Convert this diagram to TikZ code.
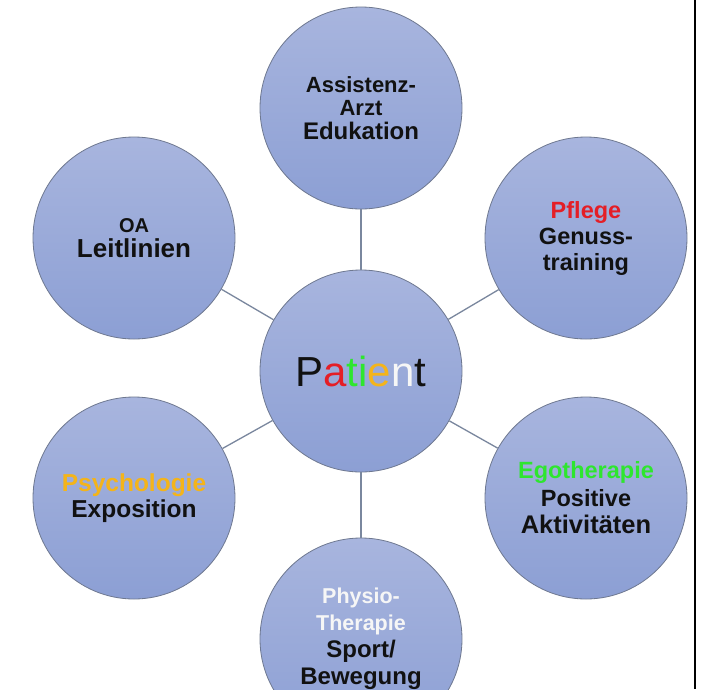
\documentclass[tikz,border=0pt]{standalone}
\usepackage{fontspec}
\setmainfont{Liberation Sans}
\definecolor{bubtop}{HTML}{A8B5DE}
\definecolor{bubbot}{HTML}{8C9FD4}
\definecolor{ringgray}{HTML}{6E7890}
\definecolor{spokegray}{HTML}{7A879E}
\definecolor{inkblack}{HTML}{111111}
\definecolor{tred}{HTML}{E41E26}
\definecolor{tgreen}{HTML}{2EE62E}
\definecolor{torange}{HTML}{F4B41A}
\definecolor{twhite}{HTML}{F6F6F6}
\newcommand{\fs}[2]{\fontsize{#1}{#2}\selectfont}
\begin{document}
\begin{tikzpicture}[x=1pt,y=-1pt,
  bubble/.style={circle, minimum size=202pt, inner sep=0pt, draw=ringgray,
    line width=0.8pt, top color=bubtop, bottom color=bubbot, align=center,
    text=inkblack, font=\bfseries\fs{24}{26}},
  spoke/.style={draw=spokegray, line width=1.3pt}]
\clip (0,0) rectangle (710,689);
\fill[white] (0,0) rectangle (710,689);

% hub and the six surrounding circles
\node[bubble, font=\fs{42}{46}] (hub) at (361,371)
  {P\textcolor{tred}{a}\textcolor{tgreen}{ti}\textcolor{torange}{e}\textcolor{twhite}{n}t};
\node[bubble, font=\bfseries\fs{24}{23.5}] (arzt) at (361,108)
  {{\fs{22}{23.5}Assistenz-}\\{\fs{22}{23.5}Arzt}\\Edukation};
\node[bubble, font=\bfseries\fs{23.5}{26}] (pflege) at (586,238)
  {\textcolor{tred}{Pflege}\\Genuss-\\training};
\node[bubble, font=\bfseries\fs{26}{25}] (oa) at (134,238)
  {{\fs{20}{25}OA}\\Leitlinien};
\node[bubble, font=\bfseries\fs{23.5}{27.5}] (ergo) at (586,498)
  {\textcolor{tgreen}{Egotherapie}\\Positive\\{\fs{25.5}{27.5}Aktivitäten}};
\node[bubble, font=\bfseries\fs{24.5}{26}] (psych) at (134,498)
  {\textcolor{torange}{Psychologie}\\Exposition};
\node[bubble, font=\bfseries\fs{24}{27}] (physio) at (361,639)
  {\raisebox{11pt}{\begin{tabular}{@{}c@{}}
   \textcolor{twhite}{\fs{21.5}{27}Physio-}\\
   \textcolor{twhite}{\fs{21.5}{27}Therapie}\\
   Sport/\\Bewegung\end{tabular}}};

% spokes from the hub
\foreach \n in {arzt,pflege,oa,ergo,psych,physio}
  \draw[spoke] (hub) -- (\n);

% frame edge on the right
\draw[line width=2pt, black] (695,0) -- (695,689);
\end{tikzpicture}
\end{document}
